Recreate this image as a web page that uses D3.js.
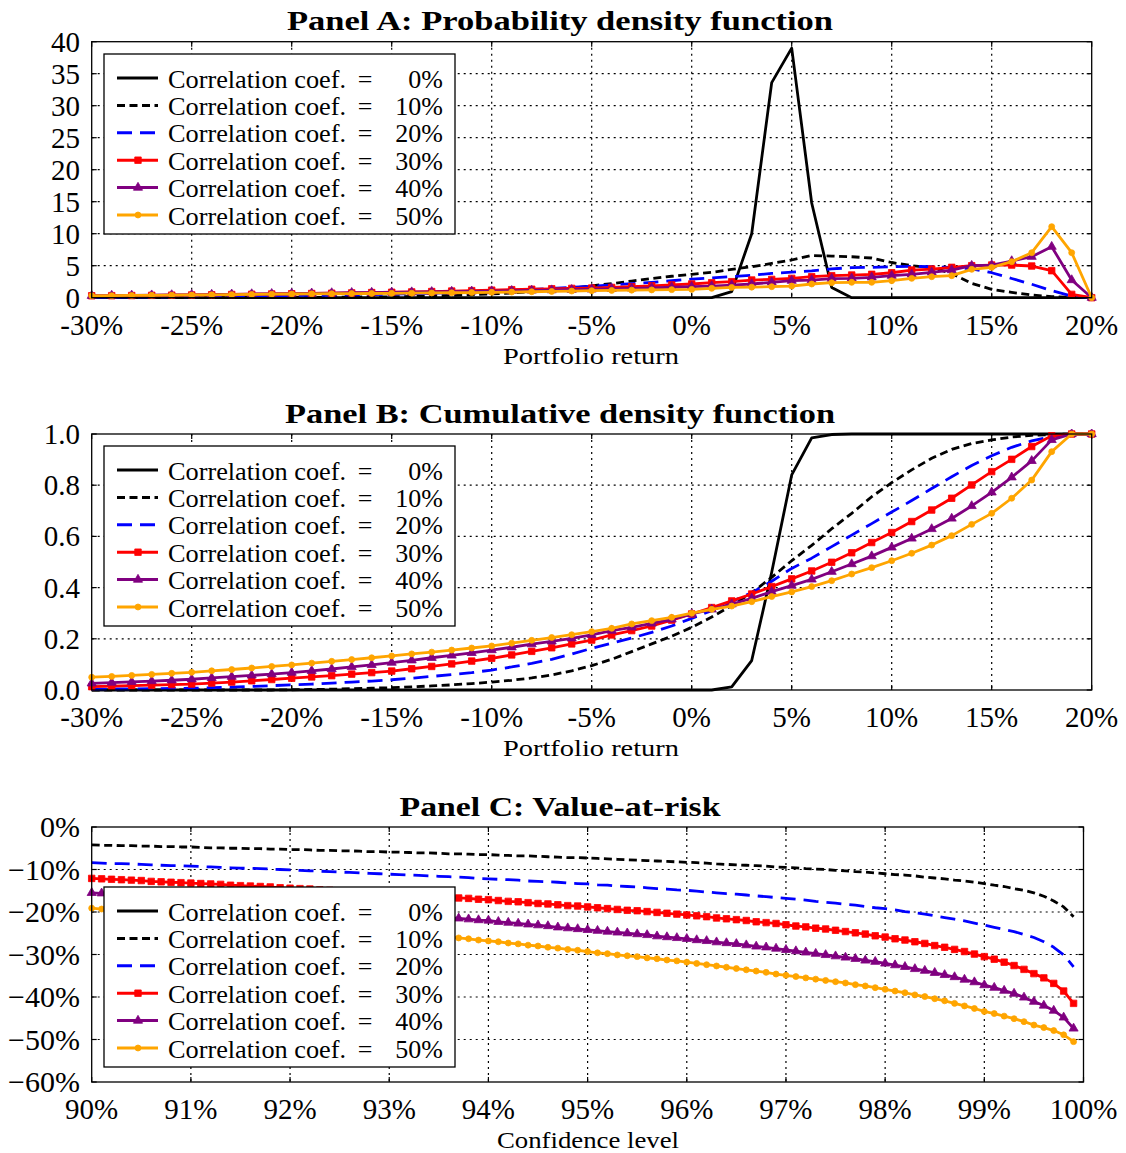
<!DOCTYPE html>
<html><head><meta charset="utf-8">
<script src="https://cdn.jsdelivr.net/npm/d3@7"></script>
<style>
body{margin:0;background:#fff}
svg{display:block}
text{font-family:"Liberation Serif","Times New Roman",serif;fill:#000}
</style>
</head><body>
<svg id="chart" width="1126" height="1153"></svg>
<script>
// ---------------- DATA ----------------
const seriesLabels = ["0%","10%","20%","30%","40%","50%"];

const returnPct = [-30,-29,-28,-27,-26,-25,-24,-23,-22,-21,-20,-19,-18,-17,-16,-15,-14,-13,-12,-11,-10,-9,-8,-7,-6,-5,-4,-3,-2,-1,0,1,2,3,4,5,6,7,8,9,10,11,12,13,14,15,16,17,18,19,20];

// Panel A: probability density
const pdf0  = [0,0,0,0,0,0,0,0,0,0, 0,0,0,0,0,0,0,0,0,0, 0,0,0,0,0,0,0,0,0,0, 0,0,0.95,10.0,33.6,39.0,14.8,1.6,0,0, 0,0,0,0,0,0,0,0,0,0,0];
const pdf10 = [0,0,0,0,0,0,0.01,0.01,0.02,0.02, 0.03,0.05,0.07,0.09,0.12,0.15,0.2,0.28,0.36,0.45, 0.6,0.75,0.95,1.2,1.5,1.85,2.2,2.6,3.0,3.35, 3.65,3.96,4.43,4.84,5.36,5.89,6.6,6.5,6.4,6.2, 5.5,5.0,4.7,3.8,2.24,1.3,0.83,0.42,0.16,0.05,0];
const pdf20 = [0.06,0.07,0.08,0.1,0.12,0.15,0.19,0.23,0.27,0.31, 0.34,0.37,0.4,0.44,0.49,0.55,0.62,0.7,0.8,0.9, 1.0,1.15,1.3,1.45,1.62,1.8,2.0,2.2,2.4,2.65, 2.9,3.1,3.3,3.5,3.8,4.0,4.2,4.5,4.7,4.74, 4.84,4.9,4.84,4.74,4.5,3.9,3.0,2.1,1.1,0.26,0];
const pdf30 = [0.3,0.32,0.34,0.37,0.4,0.43,0.46,0.5,0.54,0.58, 0.62,0.66,0.7,0.75,0.8,0.85,0.9,0.96,1.03,1.1, 1.18,1.25,1.32,1.39,1.45,1.5,1.6,1.72,1.85,2.0, 2.14,2.34,2.5,2.76,2.86,3.02,3.28,3.44,3.54,3.65, 3.9,4.32,4.48,4.74,5.0,5.1,5.1,4.95,4.22,0.52,0];
const pdf40 = [0.3,0.33,0.36,0.39,0.42,0.45,0.49,0.53,0.57,0.61, 0.65,0.69,0.73,0.77,0.8,0.83,0.87,0.91,0.95,0.99, 1.03,1.08,1.13,1.18,1.24,1.3,1.38,1.46,1.54,1.63, 1.72,1.82,1.98,2.14,2.4,2.66,2.76,2.97,3.02,3.18, 3.44,3.65,3.96,4.32,5.0,5.1,5.73,6.4,7.97,2.76,0];
const pdf50 = [0.3,0.32,0.35,0.37,0.4,0.42,0.45,0.48,0.51,0.55, 0.58,0.6,0.62,0.64,0.66,0.68,0.71,0.74,0.77,0.8, 0.84,0.88,0.93,0.98,1.04,1.1,1.14,1.18,1.22,1.26, 1.3,1.46,1.61,1.65,1.72,1.82,2.14,2.34,2.4,2.4, 2.66,3.02,3.28,3.44,4.43,4.74,5.63,7.03,11.1,7.03,0];

// Panel B: cumulative distribution
const cdf0  = [0,0,0,0,0,0,0,0,0,0, 0,0,0,0,0,0,0,0,0,0, 0,0,0,0,0,0,0,0,0,0, 0,0,0.012,0.115,0.46,0.84,0.985,0.998,1,1, 1,1,1,1,1,1,1,1,1,1,1];
const cdf10 = [0,0,0,0,0,0,0,0,0,0, 0.001,0.002,0.003,0.005,0.007,0.009,0.012,0.016,0.02,0.025, 0.031,0.038,0.047,0.059,0.075,0.095,0.12,0.15,0.18,0.21, 0.245,0.285,0.33,0.38,0.44,0.505,0.565,0.63,0.69,0.755, 0.81,0.86,0.905,0.94,0.963,0.977,0.988,0.995,0.998,1,1];
const cdf20 = [0.003,0.004,0.004,0.005,0.006,0.007,0.009,0.011,0.014,0.017, 0.02,0.023,0.027,0.031,0.035,0.04,0.046,0.053,0.06,0.068, 0.078,0.09,0.104,0.12,0.14,0.163,0.183,0.203,0.225,0.25, 0.28,0.31,0.345,0.38,0.425,0.475,0.515,0.56,0.605,0.65, 0.695,0.74,0.787,0.833,0.877,0.915,0.948,0.973,0.99,0.998,1];
const cdf30 = [0.013,0.015,0.017,0.019,0.021,0.023,0.027,0.031,0.036,0.041, 0.046,0.051,0.056,0.062,0.068,0.074,0.083,0.092,0.102,0.113, 0.124,0.137,0.151,0.165,0.18,0.195,0.215,0.232,0.25,0.273, 0.297,0.322,0.348,0.375,0.404,0.434,0.465,0.499,0.536,0.576, 0.615,0.658,0.703,0.749,0.801,0.853,0.901,0.951,0.993,1,1];
const cdf40 = [0.026,0.029,0.032,0.035,0.038,0.042,0.047,0.052,0.057,0.062, 0.068,0.075,0.082,0.09,0.098,0.107,0.116,0.126,0.135,0.145, 0.156,0.167,0.179,0.19,0.202,0.215,0.232,0.245,0.26,0.276, 0.297,0.315,0.335,0.358,0.384,0.408,0.432,0.462,0.492,0.523, 0.557,0.592,0.629,0.67,0.719,0.772,0.831,0.895,0.977,1,1];
const cdf50 = [0.05,0.053,0.057,0.061,0.065,0.069,0.075,0.08,0.086,0.092, 0.098,0.105,0.112,0.119,0.126,0.133,0.141,0.148,0.156,0.164, 0.172,0.183,0.194,0.205,0.216,0.228,0.241,0.258,0.271,0.284, 0.30,0.315,0.328,0.345,0.365,0.383,0.404,0.427,0.453,0.478, 0.505,0.534,0.566,0.603,0.647,0.69,0.749,0.82,0.931,1,1];

// Panel C: value-at-risk (return quantile, %)
const confLevel = [90.0,90.1,90.2,90.3,90.4,90.5,90.6,90.7,90.8,90.9,
91.0,91.1,91.2,91.3,91.4,91.5,91.6,91.7,91.8,91.9,
92.0,92.1,92.2,92.3,92.4,92.5,92.6,92.7,92.8,92.9,
93.0,93.1,93.2,93.3,93.4,93.5,93.6,93.7,93.8,93.9,
94.0,94.1,94.2,94.3,94.4,94.5,94.6,94.7,94.8,94.9,
95.0,95.1,95.2,95.3,95.4,95.5,95.6,95.7,95.8,95.9,
96.0,96.1,96.2,96.3,96.4,96.5,96.6,96.7,96.8,96.9,
97.0,97.1,97.2,97.3,97.4,97.5,97.6,97.7,97.8,97.9,
98.0,98.1,98.2,98.3,98.4,98.5,98.6,98.7,98.8,98.9,
99.0,99.1,99.2,99.3,99.4,99.5,99.6,99.7,99.8,99.9];
const var0 = [3.0,3.0,3.0,3.0,3.0,3.0,3.0,3.0,3.0,3.0, 2.9,2.9,2.9,2.9,2.9,2.9,2.9,2.9,2.9,2.9, 2.9,2.9,2.9,2.9,2.9,2.9,2.9,2.9,2.9,2.9, 2.9,2.9,2.9,2.9,2.9,2.9,2.9,2.9,2.9,2.9, 2.8,2.8,2.8,2.8,2.8,2.8,2.8,2.8,2.8,2.8, 2.8,2.8,2.8,2.8,2.8,2.8,2.8,2.8,2.8,2.8, 2.8,2.8,2.8,2.8,2.8,2.8,2.8,2.8,2.8,2.8, 2.7,2.7,2.7,2.7,2.7,2.7,2.7,2.7,2.7,2.7, 2.6,2.6,2.6,2.6,2.6,2.6,2.6,2.6,2.6,2.6, 2.5,2.5,2.4,2.4,2.4,2.3,2.3,2.2,2.1,2.0];
const var10 = [-4.2,-4.3,-4.3,-4.4,-4.4,-4.5,-4.5,-4.6,-4.6,-4.7,
-4.7,-4.8,-4.9,-4.9,-5.0,-5.0,-5.1,-5.1,-5.2,-5.2,
-5.3,-5.3,-5.4,-5.5,-5.5,-5.6,-5.6,-5.7,-5.8,-5.8,
-5.9,-5.9,-6.0,-6.1,-6.1,-6.2,-6.3,-6.3,-6.4,-6.5,
-6.5,-6.6,-6.7,-6.8,-6.8,-6.9,-7.0,-7.1,-7.2,-7.2,
-7.3,-7.4,-7.5,-7.6,-7.7,-7.8,-7.9,-8.0,-8.1,-8.2,
-8.3,-8.4,-8.5,-8.7,-8.8,-8.9,-9.0,-9.1,-9.2,-9.4,
-9.5,-9.6,-9.8,-9.9,-10.0,-10.2,-10.3,-10.5,-10.6,-10.8,
-11.0,-11.2,-11.3,-11.5,-11.8,-12.0,-12.2,-12.5,-12.7,-13.0,
-13.3,-13.7,-14.0,-14.5,-14.9,-15.5,-16.3,-17.4,-18.8,-21.1];
const var20 = [-8.4,-8.5,-8.6,-8.6,-8.7,-8.8,-8.9,-9.0,-9.1,-9.1,
-9.2,-9.3,-9.4,-9.5,-9.6,-9.7,-9.7,-9.8,-9.9,-10.0,
-10.1,-10.2,-10.3,-10.4,-10.5,-10.6,-10.7,-10.8,-10.9,-11.0,
-11.1,-11.2,-11.3,-11.4,-11.5,-11.6,-11.7,-11.8,-11.9,-12.1,
-12.2,-12.3,-12.4,-12.5,-12.7,-12.8,-12.9,-13.0,-13.2,-13.3,
-13.4,-13.6,-13.7,-13.9,-14.0,-14.1,-14.3,-14.5,-14.6,-14.8,
-14.9,-15.1,-15.3,-15.5,-15.7,-15.8,-16.0,-16.2,-16.4,-16.6,
-16.8,-17.0,-17.2,-17.5,-17.7,-17.9,-18.2,-18.4,-18.7,-19.0,
-19.2,-19.5,-19.9,-20.2,-20.5,-20.9,-21.3,-21.7,-22.1,-22.6,
-23.1,-23.6,-24.1,-24.6,-25.3,-26.0,-27.0,-28.3,-30.1,-32.9];
const var30 = [-12.1,-12.2,-12.3,-12.4,-12.5,-12.6,-12.8,-12.9,-13.0,-13.1,
-13.2,-13.3,-13.4,-13.5,-13.7,-13.8,-13.9,-14.0,-14.1,-14.3,
-14.4,-14.5,-14.6,-14.8,-14.9,-15.0,-15.2,-15.3,-15.4,-15.6,
-15.7,-15.8,-16.0,-16.1,-16.3,-16.4,-16.6,-16.7,-16.8,-17.0,
-17.1,-17.3,-17.5,-17.6,-17.8,-18.0,-18.1,-18.3,-18.5,-18.6,
-18.8,-19.0,-19.2,-19.4,-19.6,-19.7,-19.9,-20.1,-20.3,-20.5,
-20.7,-20.9,-21.1,-21.4,-21.6,-21.8,-22.0,-22.3,-22.5,-22.7,
-23.0,-23.3,-23.5,-23.8,-24.0,-24.3,-24.6,-24.9,-25.2,-25.6,
-25.9,-26.3,-26.6,-27.0,-27.4,-27.9,-28.3,-28.8,-29.3,-29.9,
-30.5,-31.1,-31.8,-32.6,-33.5,-34.5,-35.5,-36.8,-38.6,-41.5];
const var40 = [-15.5,-15.6,-15.8,-15.9,-16.1,-16.2,-16.4,-16.5,-16.6,-16.8,
-16.9,-17.1,-17.2,-17.4,-17.5,-17.7,-17.8,-18.0,-18.1,-18.3,
-18.5,-18.6,-18.8,-19.0,-19.1,-19.3,-19.5,-19.6,-19.8,-20.0,
-20.2,-20.3,-20.5,-20.7,-20.9,-21.1,-21.3,-21.5,-21.7,-21.9,
-22.0,-22.3,-22.5,-22.7,-22.9,-23.1,-23.3,-23.6,-23.8,-24.0,
-24.2,-24.4,-24.6,-24.8,-25.0,-25.2,-25.4,-25.7,-25.9,-26.1,
-26.3,-26.6,-26.8,-27.1,-27.3,-27.5,-27.8,-28.1,-28.3,-28.6,
-28.9,-29.2,-29.5,-29.8,-30.1,-30.4,-30.7,-31.0,-31.4,-31.7,
-32.1,-32.5,-32.9,-33.4,-33.8,-34.3,-34.8,-35.3,-35.9,-36.5,
-37.2,-37.8,-38.5,-39.2,-40.1,-41.1,-42.0,-43.2,-44.8,-47.4];
const var50 = [-19.1,-19.3,-19.4,-19.6,-19.8,-19.9,-20.1,-20.3,-20.4,-20.6,
-20.8,-20.9,-21.1,-21.3,-21.5,-21.7,-21.8,-22.0,-22.2,-22.4,
-22.6,-22.8,-23.0,-23.2,-23.4,-23.6,-23.8,-24.0,-24.2,-24.4,
-24.6,-24.8,-25.0,-25.2,-25.4,-25.7,-25.9,-26.1,-26.3,-26.6,
-26.8,-27.0,-27.3,-27.5,-27.8,-28.0,-28.3,-28.5,-28.8,-29.0,
-29.3,-29.6,-29.8,-30.1,-30.3,-30.5,-30.8,-31.0,-31.3,-31.5,
-31.8,-32.1,-32.4,-32.7,-33.0,-33.3,-33.6,-33.9,-34.2,-34.6,
-34.9,-35.2,-35.5,-35.8,-36.1,-36.4,-36.7,-37.1,-37.4,-37.8,
-38.2,-38.6,-39.0,-39.5,-39.9,-40.4,-40.9,-41.5,-42.1,-42.7,
-43.4,-43.9,-44.5,-45.1,-45.8,-46.6,-47.2,-47.9,-48.9,-50.5];

// Tick values
const returnTicks = [-30,-25,-20,-15,-10,-5,0,5,10,15,20];
const pdfTicks = [0,5,10,15,20,25,30,35,40];
const cdfTicks = [0,0.2,0.4,0.6,0.8,1.0];
const confTicks = [90,91,92,93,94,95,96,97,98,99,100];
const varTicks = [0,-10,-20,-30,-40,-50,-60];

// ---------------- STYLE ----------------
const styles = [
  {color:"#000000", dash:null, marker:null},
  {color:"#000000", dash:"8,4.5", marker:null},
  {color:"#0000ff", dash:"15,8", marker:null},
  {color:"#ff0000", dash:null, marker:"square"},
  {color:"#800080", dash:null, marker:"triangle"},
  {color:"#ffa500", dash:null, marker:"circle"}
];
const markerSym = {
  square: d3.symbol().type(d3.symbolSquare).size(42),
  triangle: d3.symbol().type(d3.symbolTriangle).size(36),
  circle: d3.symbol().type(d3.symbolCircle).size(28)
};

const svg = d3.select("#chart");
const defs = svg.append("defs");

function drawPanel(cfg){
  const x = d3.scaleLinear().domain(cfg.xDomain).range([cfg.left, cfg.right]);
  const y = d3.scaleLinear().domain(cfg.yDomain).range([cfg.bottom, cfg.top]);
  const g = svg.append("g");

  defs.append("clipPath").attr("id","clip"+cfg.id).append("rect")
    .attr("x",cfg.left-6).attr("y",cfg.top-5)
    .attr("width",cfg.right-cfg.left+12).attr("height",cfg.bottom-cfg.top+11);

  // grid
  const grid = g.append("g").attr("stroke","#000").attr("stroke-width",1.2).attr("stroke-dasharray","2,4");
  cfg.xTicks.forEach(t=>{
    const px = x(t);
    if (Math.abs(px-cfg.left)<1 || Math.abs(px-cfg.right)<1) return;
    grid.append("line").attr("x1",px).attr("x2",px).attr("y1",cfg.top).attr("y2",cfg.bottom);
  });
  cfg.yTicks.forEach(t=>{
    const py = y(t);
    if (Math.abs(py-cfg.top)<1 || Math.abs(py-cfg.bottom)<1) return;
    grid.append("line").attr("x1",cfg.left).attr("x2",cfg.right).attr("y1",py).attr("y2",py);
  });
  // tick marks (inward)
  const tk = g.append("g").attr("stroke","#000").attr("stroke-width",1.2);
  cfg.xTicks.forEach(t=>{
    const px = x(t);
    tk.append("line").attr("x1",px).attr("x2",px).attr("y1",cfg.bottom).attr("y2",cfg.bottom-5);
    tk.append("line").attr("x1",px).attr("x2",px).attr("y1",cfg.top).attr("y2",cfg.top+5);
  });
  cfg.yTicks.forEach(t=>{
    const py = y(t);
    tk.append("line").attr("x1",cfg.left).attr("x2",cfg.left+5).attr("y1",py).attr("y2",py);
    tk.append("line").attr("x1",cfg.right).attr("x2",cfg.right-5).attr("y1",py).attr("y2",py);
  });

  // series
  const plot = g.append("g").attr("clip-path","url(#clip"+cfg.id+")");
  const line = d3.line().x((d,i)=>x(cfg.xs[i])).y(d=>y(d));
  cfg.series.forEach((vals,si)=>{
    const st = styles[si];
    plot.append("path").datum(vals).attr("d",line)
      .attr("fill","none").attr("stroke",st.color).attr("stroke-width",2.8)
      .attr("stroke-linejoin","round")
      .attr("stroke-dasharray",st.dash);
    if (st.marker){
      plot.append("g").selectAll("path").data(vals).join("path")
        .attr("d",markerSym[st.marker])
        .attr("transform",(d,i)=>`translate(${x(cfg.xs[i])},${y(d)})`)
        .attr("fill",st.color).attr("stroke",st.color).attr("stroke-width",0.8);
    }
  });

  // frame
  g.append("rect").attr("x",cfg.left).attr("y",cfg.top)
    .attr("width",cfg.right-cfg.left).attr("height",cfg.bottom-cfg.top)
    .attr("fill","none").attr("stroke","#000").attr("stroke-width",1.3);

  // tick labels
  cfg.xTicks.forEach(t=>{
    g.append("text").attr("x",x(t)).attr("y",cfg.bottom+37)
      .attr("text-anchor","middle").attr("font-size",29).text(cfg.xFmt(t));
  });
  cfg.yTicks.forEach(t=>{
    g.append("text").attr("x",80).attr("y",y(t)+10)
      .attr("text-anchor","end").attr("font-size",cfg.yFontSize||29).text(cfg.yFmt(t));
  });

  // title
  g.append("text").attr("x",560).attr("y",cfg.top-11.5)
    .attr("text-anchor","middle").attr("font-size",28).attr("font-weight","bold")
    .attr("textLength",cfg.titleLen).attr("lengthAdjust","spacingAndGlyphs")
    .text(cfg.title);
  // axis label
  g.append("text").attr("x",cfg.xLabelX).attr("y",cfg.bottom+66)
    .attr("text-anchor","middle").attr("font-size",24)
    .attr("textLength",cfg.xLabelLen).attr("lengthAdjust","spacingAndGlyphs")
    .text(cfg.xLabel);

  // legend
  const lg = g.append("g");
  lg.append("rect").attr("x",104).attr("y",cfg.legendTop).attr("width",351).attr("height",180)
    .attr("fill","#fff").attr("stroke","#000").attr("stroke-width",1.3);
  seriesLabels.forEach((lab,i)=>{
    const st = styles[i];
    const cy = cfg.legendTop + 24 + i*27.4;
    lg.append("line").attr("x1",117).attr("x2",158).attr("y1",cy).attr("y2",cy)
      .attr("stroke",st.color).attr("stroke-width",3).attr("stroke-dasharray",st.dash);
    if (st.marker){
      lg.append("path").attr("d",markerSym[st.marker]).attr("transform",`translate(138,${cy})`)
        .attr("fill",st.color).attr("stroke",st.color).attr("stroke-width",0.8);
    }
    lg.append("text").attr("x",168).attr("y",cy+9.5).attr("font-size",26)
      .attr("textLength",178).attr("lengthAdjust","spacingAndGlyphs").text("Correlation coef.");
    lg.append("text").attr("x",365).attr("y",cy+9.5).attr("font-size",26)
      .attr("text-anchor","middle").text("=");
    lg.append("text").attr("x",443).attr("y",cy+9.5).attr("font-size",26)
      .attr("text-anchor","end").text(lab);
  });
}

const pctFmt = t => `${t}%`;
const minusPctFmt = t => (t < 0 ? "\u2212" + Math.abs(t) : String(t)) + "%";

drawPanel({
  id:"A", left:91.7, right:1091.7, top:41.7, bottom:297.7,
  xDomain:[-30,20], yDomain:[0,40], xs:returnPct,
  xTicks:returnTicks, yTicks:pdfTicks, xFmt:pctFmt, yFmt:t=>String(t),
  series:[pdf0,pdf10,pdf20,pdf30,pdf40,pdf50],
  title:"Panel A: Probability density function", titleLen:546,
  xLabel:"Portfolio return", xLabelX:591, xLabelLen:176, legendTop:54
});
drawPanel({
  id:"B", left:91.7, right:1091.7, top:434, bottom:690,
  xDomain:[-30,20], yDomain:[0,1], xs:returnPct,
  xTicks:returnTicks, yTicks:cdfTicks, xFmt:pctFmt, yFmt:d3.format(".1f"),
  series:[cdf0,cdf10,cdf20,cdf30,cdf40,cdf50],
  title:"Panel B: Cumulative density function", titleLen:550,
  xLabel:"Portfolio return", xLabelX:591, xLabelLen:176, legendTop:446
});
drawPanel({
  id:"C", left:91.7, right:1083.5, top:827, bottom:1082,
  xDomain:[90,100], yDomain:[-60,0], xs:confLevel,
  xTicks:confTicks, yTicks:varTicks, xFmt:pctFmt, yFmt:minusPctFmt, yFontSize:30,
  series:[var0,var10,var20,var30,var40,var50],
  title:"Panel C: Value-at-risk", titleLen:321,
  xLabel:"Confidence level", xLabelX:588, xLabelLen:182, legendTop:887
});
</script>
</body></html>
